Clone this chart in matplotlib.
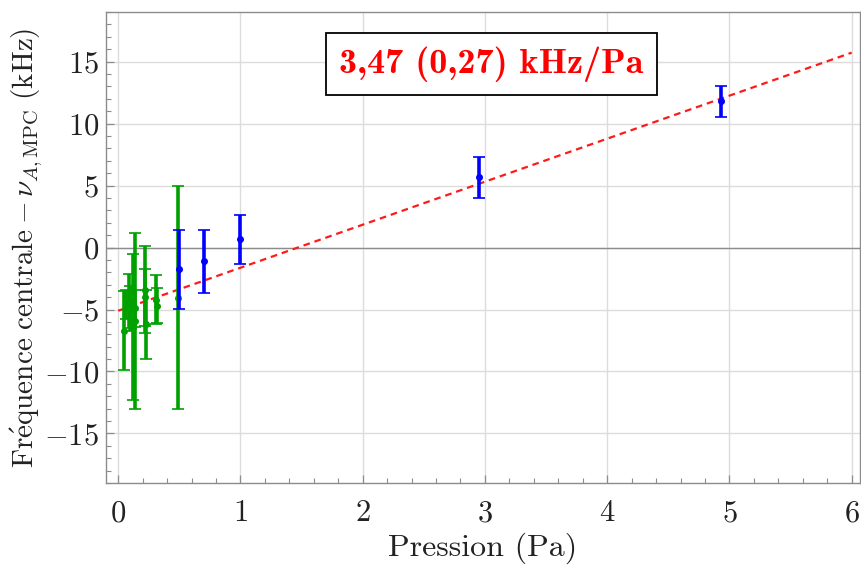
import matplotlib
matplotlib.use("Agg")
import matplotlib.pyplot as plt
from matplotlib.ticker import MultipleLocator
import numpy as np

plt.rcParams['font.family'] = ['cmr10']
plt.rcParams['mathtext.fontset'] = 'cm'
plt.rcParams['axes.formatter.use_mathtext'] = True

# Green series (low pressure)
green_x = [0.05, 0.06, 0.09, 0.10, 0.135, 0.125, 0.14, 0.22, 0.23, 0.22, 0.31, 0.32, 0.485]
green_y = [-6.7, -4.6, -4.3, -4.9, -5.9, -6.4, -4.9, -3.4, -6.2, -4.0, -4.2, -4.7, -4.05]
green_err = [3.2, 1.2, 2.2, 1.8, 7.1, 5.9, 1.5, 3.5, 2.8, 2.3, 2.0, 1.4, 9.0]

# Blue series
blue_x = [0.5, 0.7, 1.0, 2.95, 4.93]
blue_y = [-1.75, -1.1, 0.65, 5.65, 11.8]
blue_err = [3.2, 2.55, 2.0, 1.65, 1.25]

# Linear fit
slope = 3.47
intercept = -5.1
fit_x = [0.0, 6.0]
fit_label = "3,47 (0,27) kHz/Pa"

fig = plt.figure(figsize=(8.61, 5.71), dpi=100)
ax = fig.add_axes([0.1231, 0.154, 0.876, 0.825])

ax.set_xlim(-0.1, 6.07)
ax.set_ylim(-19, 19)

ax.xaxis.set_major_locator(MultipleLocator(1))
ax.xaxis.set_minor_locator(MultipleLocator(0.2))
ax.yaxis.set_major_locator(MultipleLocator(5))
ax.yaxis.set_minor_locator(MultipleLocator(1))

ax.grid(True, which='major', color='#dcdcdc', lw=1.0, zorder=0)
ax.axhline(0, color='#8c8c8c', lw=1.0, zorder=2)

for s in ax.spines.values():
    s.set_color('#8c8c8c')
    s.set_linewidth(1.0)

ax.tick_params(which='both', direction='in', colors='#8c8c8c', labelcolor='#222222',
               labelsize=22, top=False, right=False)
ax.tick_params(which='major', length=6, width=0.9)
ax.tick_params(which='minor', length=3.5, width=0.8)
ax.tick_params(axis='x', pad=12)
ax.tick_params(axis='y', pad=5)

fx = np.array(fit_x)
ax.plot(fx, slope * fx + intercept, color='#ff1a1a', lw=1.6, ls=(0, (3, 2.2)), zorder=3)

ax.errorbar(green_x, green_y, yerr=green_err, fmt='o', color='#00a000', ms=4,
            elinewidth=2.6, capsize=4, capthick=1.2, zorder=4)
ax.errorbar(blue_x, blue_y, yerr=blue_err, fmt='o', color='#0000ff', ms=4,
            elinewidth=2.6, capsize=4, capthick=1.2, zorder=5)

ax.set_xlabel("Pression (Pa)", fontsize=23, color='#222222', labelpad=4)
ax.set_ylabel(r"$\mathrm{Fr\acute{e}quence\ centrale} - \nu_{A,\mathrm{MPC}}\ \mathrm{(kHz)}$",
              fontsize=21, color='#222222', labelpad=0)

ax.text(0.511, 0.89, fit_label, transform=ax.transAxes, ha='center', va='center',
        fontsize=26, family='cmb10', color='#ff0000', zorder=6,
        bbox=dict(boxstyle='square,pad=0.36', fc='white', ec='black', lw=1.3))

fig.savefig("out.png", dpi=100)
